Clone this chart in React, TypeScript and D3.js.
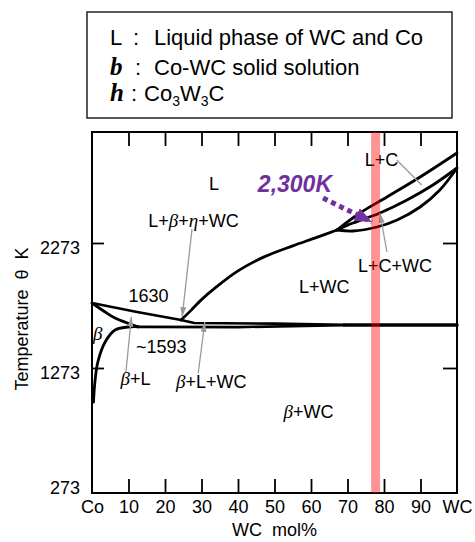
import React, { useEffect, useRef } from 'react';
import * as d3 from 'd3';

const width = 475;
const height = 542;
const plot = { left: 92, right: 457, top: 132, bottom: 493 };

// axes: WC mol% and temperature in K
const xTicks = [0, 10, 20, 30, 40, 50, 60, 70, 80, 90, 100];
const xTickLabels = ['Co', '10', '20', '30', '40', '50', '60', '70', '80', '90', 'WC'];
const yTicks = [273, 1273, 2273];
const tempRange = [273, 3161];

// phase boundaries [WC mol%, K]
const coLiquidus = [[0, 1793], [12, 1723], [24.4, 1657]];
const coSolidus = [[0, 1793], [3.6, 1721], [6.3, 1673], [10.4, 1625], [12.6, 1603]];
const betaSolvus = [[0.4, 1000], [0.8, 1161], [1.6, 1321], [3.6, 1481], [6.3, 1577], [9.9, 1601], [12.6, 1603]];
const upperIsotherm = [[24.4, 1657], [28, 1633], [50, 1628], [69, 1619]];
const lowerIsotherm = [[12.6, 1602], [40, 1600], [69, 1615]];
const eutecticLine = [[69, 1617], [100, 1617]];
const wcLiquidus = [[24.4, 1657], [27, 1730], [30, 1820], [34, 1920], [40, 2050], [47, 2160], [55, 2250], [61, 2312], [67.1, 2377]];
const lensTop = [[67.1, 2377], [73.4, 2513], [80.8, 2641], [89.9, 2801], [100, 2993]];
const lensMiddle = [[67.1, 2377], [71.5, 2433], [78.9, 2513], [86.3, 2617], [93.4, 2737], [100, 2873]];
const lensBottom = [[67.1, 2377], [71.5, 2369], [78.1, 2401], [83.6, 2457], [89.9, 2561], [95.3, 2697], [100, 2873]];

const markComposition = 77.7;
const markLabel = '2,300K';

// region labels [text, WC mol%, K]
const regionLabels = [
  ['L', 33.4, 2697],
  ['L+β+η+WC', 27.8, 2401],
  ['1630', 15.5, 1801],
  ['β', 1.6, 1497],
  ['~1593', 19.0, 1393],
  ['β+L', 11.9, 1137],
  ['β+L+WC', 32.7, 1113],
  ['β+WC', 59.3, 873],
  ['L+WC', 63.6, 1873],
  ['L+C+WC', 83.0, 2041],
  ['L+C', 79.3, 2889],
];

// pointer lines [from, to, arrowhead]
const pointers = [
  [[27.4, 2385], [24.7, 1681], true],
  [[9.3, 1241], [10.8, 1683], true],
  [[29.1, 1231], [30.9, 1641], true],
  [[80.8, 2201], [78.9, 2513], true],
  [[83.5, 2937], [90.3, 2737], false],
];
const markArrow = [[63.3, 2633], [76.7, 2441]];

const legendSymbols = ['L', 'b', 'h'];
const legendTexts = ['Liquid phase of WC and Co', 'Co-WC solid solution', 'Co3W3C'];

const sans = 'Liberation Sans, Arial, sans-serif';
const serif = 'Liberation Serif, Times New Roman, serif';

function App() {
  const ref = useRef(null);

  useEffect(() => {
    const svg = d3.select(ref.current);
    svg.selectAll('*').remove();

    const x = d3.scaleLinear().domain([0, 100]).range([plot.left, plot.right]);
    const y = d3.scaleLinear().domain(tempRange).range([plot.bottom, plot.top]);

    const defs = svg.append('defs');
    defs.append('marker')
      .attr('id', 'grayHead').attr('markerUnits', 'userSpaceOnUse')
      .attr('markerWidth', 10).attr('markerHeight', 6)
      .attr('refX', 10).attr('refY', 3).attr('orient', 'auto')
      .append('path').attr('d', 'M0,0 L10,3 L0,6 Z').attr('fill', '#9a9a9a');
    defs.append('marker')
      .attr('id', 'purpleHead').attr('markerUnits', 'userSpaceOnUse')
      .attr('markerWidth', 17).attr('markerHeight', 14)
      .attr('refX', 17).attr('refY', 7).attr('orient', 'auto')
      .append('path').attr('d', 'M0,0 L17,7 L0,14 Z').attr('fill', '#7030a0');

    // legend box
    svg.append('rect')
      .attr('x', 87).attr('y', 12).attr('width', 365).attr('height', 106)
      .attr('fill', 'none').attr('stroke', '#222').attr('stroke-width', 1.5);
    const rows = [
      { base: 45, colon: 133, text: 154 },
      { base: 75, colon: 135, text: 154 },
      { base: 101, colon: 131, text: 144 },
    ];
    legendSymbols.forEach((s, i) => {
      const r = rows[i];
      const sym = svg.append('text').attr('x', 110).attr('y', r.base).text(s);
      if (i === 0) sym.attr('font-family', sans).attr('font-size', 22);
      else sym.attr('font-family', serif).attr('font-size', 25).attr('font-weight', 'bold').attr('font-style', 'italic');
      svg.append('text').attr('x', r.colon).attr('y', r.base)
        .attr('font-family', sans).attr('font-size', 22).text(':');
      const t = svg.append('text').attr('x', r.text).attr('y', r.base)
        .attr('font-family', sans).attr('font-size', 22);
      let sub = false;
      legendTexts[i].split(/(\d)/).filter(p => p).forEach(p => {
        const isSub = /\d/.test(p);
        const ts = t.append('tspan').text(p);
        if (isSub) ts.attr('font-size', 14).attr('dy', 5);
        else if (sub) ts.attr('dy', -5);
        sub = isSub;
      });
    });

    // phase boundaries
    const smooth = d3.line().x(d => x(d[0])).y(d => y(d[1])).curve(d3.curveCatmullRom.alpha(0.5));
    const straight = d3.line().x(d => x(d[0])).y(d => y(d[1]));
    const curves = svg.append('g').attr('fill', 'none').attr('stroke', '#000')
      .attr('stroke-linecap', 'round').attr('stroke-linejoin', 'round');
    [coSolidus, betaSolvus, wcLiquidus, lensTop, lensMiddle, lensBottom].forEach(c => {
      curves.append('path').attr('d', smooth(c)).attr('stroke-width', 2.8);
    });
    [coLiquidus, upperIsotherm, lowerIsotherm].forEach(c => {
      curves.append('path').attr('d', straight(c)).attr('stroke-width', 2.6);
    });
    curves.append('path').attr('d', straight(eutecticLine)).attr('stroke-width', 3.4);

    // pointers
    pointers.forEach(([a, b, head]) => {
      const l = svg.append('line')
        .attr('x1', x(a[0])).attr('y1', y(a[1])).attr('x2', x(b[0])).attr('y2', y(b[1]))
        .attr('stroke', '#9a9a9a').attr('stroke-width', 1.3);
      if (head) l.attr('marker-end', 'url(#grayHead)');
    });

    // region labels
    regionLabels.forEach(([s, cx, ct]) => {
      const t = svg.append('text').attr('x', x(cx)).attr('y', y(ct))
        .attr('text-anchor', 'middle').attr('font-family', sans).attr('font-size', 18);
      s.split(/([βη])/).filter(p => p).forEach(p => {
        const ts = t.append('tspan').text(p);
        if (/[βη]/.test(p)) ts.attr('font-family', serif).attr('font-style', 'italic').attr('font-size', 19);
      });
    });

    // axes
    const axisStyle = g => g.attr('font-family', sans).attr('font-size', 18)
      .call(s => s.select('.domain').remove())
      .call(s => s.selectAll('.tick line').attr('stroke', '#000').attr('stroke-width', 1.8));

    svg.append('g').attr('transform', `translate(0,${plot.bottom})`)
      .call(d3.axisBottom(x).tickValues(xTicks).tickSize(-14).tickPadding(7)
        .tickFormat((d, i) => xTickLabels[i]))
      .call(axisStyle)
      .call(s => s.selectAll('.tick').filter(d => d === 0 || d === 100).select('line').remove());

    svg.append('g').attr('transform', `translate(0,${plot.top})`)
      .call(d3.axisTop(x).tickValues(xTicks.slice(1, -1)).tickSize(-14).tickFormat(() => ''))
      .call(axisStyle);

    svg.append('g').attr('transform', `translate(${plot.left},0)`)
      .call(d3.axisLeft(y).tickValues(yTicks).tickSize(-12).tickPadding(12).tickFormat(d3.format('d')))
      .call(axisStyle)
      .call(s => s.selectAll('.tick text').attr('dy', d => (d === 273 ? '0em' : '0.6em')))
      .call(s => s.selectAll('.tick').filter(d => d === 273).select('line').remove());

    svg.append('g').attr('transform', `translate(${plot.right},0)`)
      .call(d3.axisRight(y).tickValues(yTicks.slice(1)).tickSize(-14).tickFormat(() => ''))
      .call(axisStyle);

    // frame
    svg.append('rect')
      .attr('x', plot.left).attr('y', plot.top)
      .attr('width', plot.right - plot.left).attr('height', plot.bottom - plot.top)
      .attr('fill', 'none').attr('stroke', '#000').attr('stroke-width', 2);

    // highlighted composition band
    svg.append('rect')
      .attr('x', x(markComposition) - 4.5).attr('y', plot.top)
      .attr('width', 9).attr('height', plot.bottom - plot.top)
      .attr('fill', '#ff0000').attr('opacity', 0.42);

    // 2,300K annotation
    svg.append('text').attr('x', x(55.6)).attr('y', y(2681))
      .attr('text-anchor', 'middle').attr('font-family', sans).attr('font-size', 23)
      .attr('font-weight', 'bold').attr('font-style', 'italic').attr('fill', '#7030a0')
      .text(markLabel);
    svg.append('line')
      .attr('x1', x(markArrow[0][0])).attr('y1', y(markArrow[0][1]))
      .attr('x2', x(markArrow[1][0])).attr('y2', y(markArrow[1][1]))
      .attr('stroke', '#7030a0').attr('stroke-width', 5).attr('stroke-dasharray', '5 4')
      .attr('marker-end', 'url(#purpleHead)');

    // axis titles
    svg.append('text').attr('x', (plot.left + plot.right) / 2).attr('y', 536)
      .attr('text-anchor', 'middle').attr('font-family', sans).attr('font-size', 18)
      .attr('xml:space', 'preserve').text('WC  mol%');
    svg.append('text').attr('transform', 'translate(28,319) rotate(-90)')
      .attr('text-anchor', 'middle').attr('font-family', sans).attr('font-size', 18)
      .attr('xml:space', 'preserve').text('Temperature  θ  K');
  }, []);

  return (
    <svg ref={ref} width={width} height={height}
      style={{ position: 'absolute', left: 0, top: 0, background: '#fff' }} />
  );
}

export default App;
